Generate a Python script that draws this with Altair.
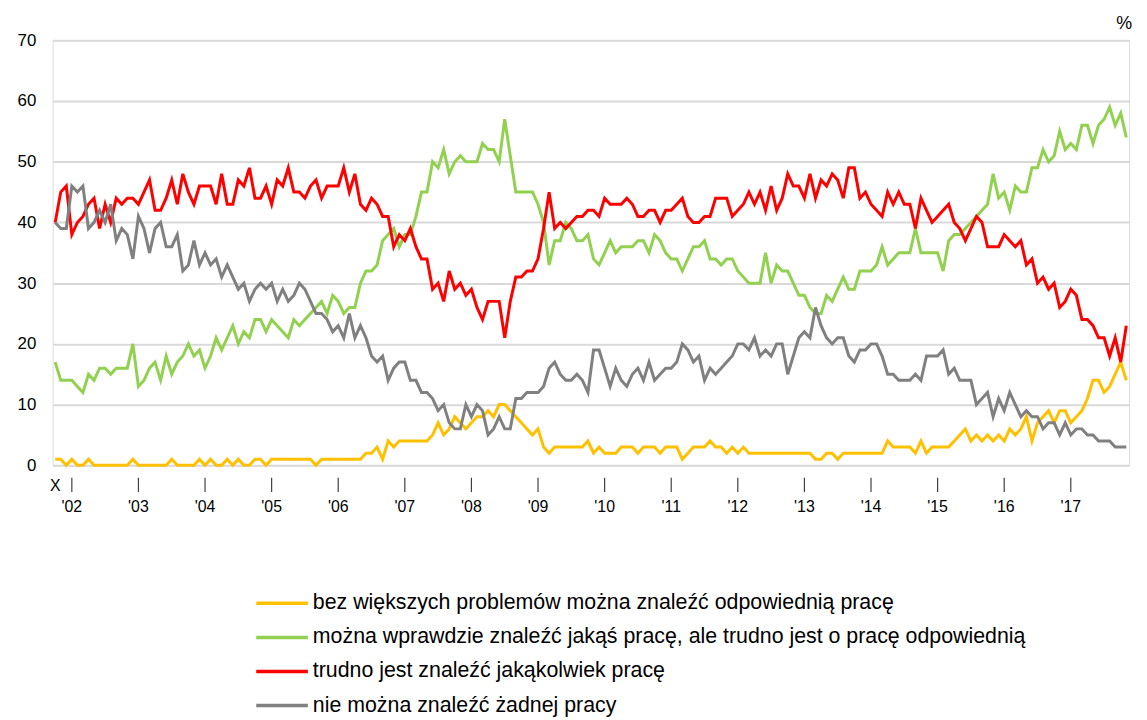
import altair as alt
import pandas as pd

# Monthly survey points: index 0 = X 2001 (October) ... 193 = XI 2017
yellow = [1,1,0,1,0,0,1,0,0,0,0,0,0,0,1,0,0,0,0,0,0,1,0,0,0,0,1,0,
          1,0,0,1,0,1,0,0,1,1,0,1,1,1,1,1,1,1,1,0,1,1,1,1,1,1,1,
          1,2,2,3,1,4,3,4,4,4,4,4,4,5,7,5,6,8,7,6,7,8,8,9,8,10,10,9,8,
          7,6,5,6,3,2,3,3,3,3,3,3,4,2,3,2,2,2,3,3,3,2,3,3,3,2,3,
          3,3,1,2,3,3,3,4,3,3,2,3,2,3,2,2,2,2,2,2,2,2,2,2,2,2,1,
          1,2,2,1,2,2,2,2,2,2,2,2,4,3,3,3,3,2,4,2,3,3,3,3,4,5,6,4,
          5,4,5,4,5,4,6,5,6,8,4,7,8,9,7,9,9,7,8,9,11,14,14,12,13,15,17,14]

green = [17,14,14,14,13,12,15,14,16,16,15,16,16,16,20,13,14,16,17,14,18,15,17,18,20,18,19,16,
         18,21,19,21,23,20,22,21,24,24,22,24,23,22,21,24,23,24,25,26,27,25,28,27,25,26,26,
         30,32,32,33,37,38,39,36,38,38,41,45,45,50,49,52,48,50,51,50,50,50,53,52,52,50,57,51,45,
         45,45,45,43,40,33,37,37,40,39,37,37,38,34,33,35,37,35,36,36,36,37,37,35,38,37,35,
         34,34,32,34,36,36,37,34,34,33,34,34,32,31,30,30,30,35,30,33,32,32,30,28,28,26,25,
         25,28,27,29,31,29,29,32,32,32,33,36,33,34,35,35,35,39,35,35,35,35,32,37,38,38,39,40,
         41,42,43,48,44,45,42,46,45,45,49,49,52,50,51,55,52,53,52,56,56,53,56,57,59,56,58,54]

red = [40,45,46,38,40,41,43,44,39,43,40,44,43,44,44,43,45,47,42,42,44,47,43,48,45,43,46,46,
       46,43,48,43,43,47,46,49,44,44,46,43,47,46,49,45,45,44,46,47,44,46,46,46,49,45,48,
       43,42,44,43,41,41,36,38,37,39,36,34,34,29,30,27,32,29,30,28,29,26,24,27,27,27,21,27,31,
       31,32,32,34,39,45,39,40,39,40,41,41,42,42,41,44,43,43,43,44,43,41,41,42,42,40,42,
       42,43,44,41,40,40,41,41,44,44,44,41,42,43,45,43,45,42,46,42,44,48,46,46,44,48,44,
       47,46,48,47,44,49,49,44,45,43,42,41,45,43,45,43,43,39,44,42,40,41,42,43,40,39,37,39,
       41,40,36,36,36,38,37,36,37,33,34,30,31,29,30,26,27,29,28,24,24,23,21,21,18,21,17,23]

gray = [40,39,39,46,45,46,39,40,42,40,43,37,39,38,34,41,39,35,39,40,36,36,38,32,33,37,33,35,
        33,34,31,33,31,29,30,27,29,30,29,30,27,29,27,28,30,29,27,25,25,24,22,23,21,25,21,
        23,21,18,17,18,14,16,17,17,14,14,12,12,11,9,10,7,6,6,10,8,10,9,5,6,8,6,6,11,
        11,12,12,12,13,16,17,15,14,14,15,14,12,19,19,16,13,16,14,13,15,16,14,17,14,15,16,
        16,17,20,19,17,18,14,16,15,16,17,18,20,20,19,21,18,19,18,20,20,15,18,21,22,21,26,
        23,21,20,21,21,18,17,19,19,20,20,18,15,15,14,14,14,15,14,18,18,18,19,15,16,14,14,14,
        10,11,12,8,11,9,12,10,8,9,8,8,6,7,7,5,7,5,6,6,5,5,4,4,4,3,3,3]

series_names = [
    "bez większych problemów można znaleźć odpowiednią pracę",
    "można wprawdzie znaleźć jakąś pracę, ale trudno jest o pracę odpowiednią",
    "trudno jest znaleźć jakąkolwiek pracę",
    "nie można znaleźć żadnej pracy",
]
series_colors = ["#FFC000", "#92D050", "#FF0000", "#808080"]

start_label = "X"
year_labels = ["'02", "'03", "'04", "'05", "'06", "'07", "'08", "'09",
               "'10", "'11", "'12", "'13", "'14", "'15", "'16", "'17"]
year_month_index = [3, 15, 27, 39, 51, 63, 75, 87, 99, 111, 123, 135, 147, 159, 171, 183]

rows = []
for name, vals in zip(series_names, [yellow, green, red, gray]):
    for i, v in enumerate(vals):
        rows.append({"m": i, "value": v, "series": name})
df = pd.DataFrame(rows)

years_df = pd.DataFrame({"m": year_month_index, "label": year_labels})
start_df = pd.DataFrame({"m": [0], "label": [start_label]})
legend_df = pd.DataFrame({"series": series_names, "row": list(range(len(series_names)))})

W, H = 1084, 428
FONT = "Liberation Sans"

xscale = alt.Scale(domain=[-0.45, 193.5], nice=False, zero=False)
cscale = alt.Scale(domain=series_names, range=series_colors)

lines = alt.Chart(df).mark_line(strokeWidth=3).encode(
    x=alt.X("m:Q", scale=xscale, axis=None),
    y=alt.Y("value:Q", scale=alt.Scale(domain=[0, 70], nice=False),
            axis=alt.Axis(values=[0, 10, 20, 30, 40, 50, 60, 70], title=None,
                          grid=True, gridColor="#D9D9D9", gridWidth=2,
                          domain=False, ticks=False, labelFontSize=17,
                          labelPadding=17, labelColor="#000000", labelFont=FONT)),
    color=alt.Color("series:N", scale=cscale, legend=None),
)

year_ticks = alt.Chart(years_df).mark_rule(color="#404040", strokeWidth=1.2).encode(
    x=alt.X("m:Q", scale=xscale, axis=None),
    y=alt.value(H + 12.5),
    y2=alt.value(H + 27),
)

year_text = alt.Chart(years_df).mark_text(
    fontSize=16, font=FONT, color="#000000", baseline="middle"
).encode(
    x=alt.X("m:Q", scale=xscale, axis=None),
    y=alt.value(H + 42),
    text="label:N",
)

start_text = alt.Chart(start_df).mark_text(
    fontSize=16, font=FONT, color="#000000", baseline="middle"
).encode(
    x=alt.X("m:Q", scale=xscale, axis=None),
    y=alt.value(H + 21),
    text="label:N",
)

unit_text = alt.Chart(pd.DataFrame({"t": ["%"]})).mark_text(
    fontSize=18, font=FONT, color="#000000", baseline="middle", align="right"
).encode(x=alt.value(W + 3), y=alt.value(-16), text="t:N")

legend_y = alt.Y("row:Q", scale=alt.Scale(domain=[0, 3], range=[567, 670]), axis=None)

legend_lines = alt.Chart(legend_df).mark_rule(strokeWidth=3.5).encode(
    x=alt.value(205), x2=alt.value(257), y=legend_y,
    color=alt.Color("series:N", scale=cscale, legend=None),
)
legend_text = alt.Chart(legend_df).mark_text(
    align="left", baseline="middle", fontSize=21.5, font=FONT, color="#000000"
).encode(x=alt.value(262), y=legend_y, text="series:N")

chart = alt.layer(
    lines, year_ticks, year_text, start_text, unit_text, legend_lines, legend_text
).resolve_scale(y="independent").properties(
    width=W, height=H,
    autosize=alt.AutoSizeParams(type="none"),
    padding={"left": 45, "top": 30, "right": 10, "bottom": 262},
).configure_view(stroke=None).configure(background="white")

chart.save("out.html", embed_options={"renderer": "svg", "actions": False})
